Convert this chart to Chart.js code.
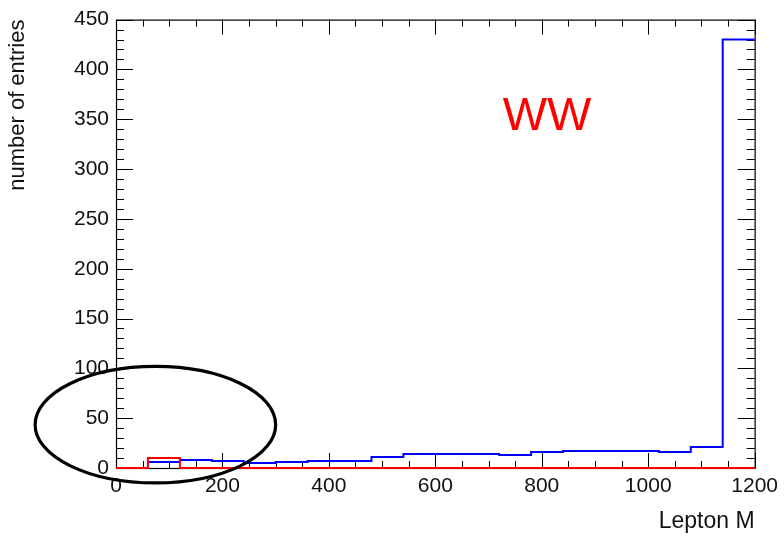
<!DOCTYPE html>
<html>
<head>
<meta charset="utf-8">
<script src="https://cdn.jsdelivr.net/npm/chart.js@4"></script>
<style>
  html, body { margin: 0; padding: 0; background: #fff; }
  #wrap { width: 784px; height: 536px; }
</style>
</head>
<body>
<div id="wrap"><canvas id="histChart"></canvas></div>
<script>
// bin edges (60 wide, 0..1200) and per-bin counts
const binEdges = [0, 60, 120, 180, 240, 300, 360, 420, 480, 540, 600, 660, 720, 780, 840, 900, 960, 1020, 1080, 1140, 1200];
const blueCounts = [0, 6, 8, 7, 5, 6, 7, 7, 11, 14, 14, 14, 13, 16, 17, 17, 17, 16, 21, 430];
const redCounts = [0, 10, 0, 0, 0, 0, 0, 0, 0, 0, 0, 0, 0, 0, 0, 0, 0, 0, 0, 0];
const xTickLabels = [0, 200, 400, 600, 800, 1000, 1200];
const yTickLabels = [0, 50, 100, 150, 200, 250, 300, 350, 400, 450];

// step points: each left edge holds its bin value, last edge closes the final bin
function toSteps(counts) {
    const pts = counts.map((c, i) => ({ x: binEdges[i], y: c }));
    pts.push({ x: binEdges[binEdges.length - 1], y: counts[counts.length - 1] });
    return pts;
}

const FONT = 'Liberation Sans, Arial, Helvetica, sans-serif';

// ROOT-style frame with inward ticks on all four sides, drawn under the histograms
const frameTicks = {
    id: 'frameTicks',
    beforeDatasetsDraw(chart) {
        const { ctx, chartArea: a, scales: { x, y } } = chart;
        ctx.save();
        ctx.strokeStyle = '#000';
        ctx.lineWidth = 1;
        ctx.beginPath();
        for (let v = 0; v <= 1200; v += 50) {
            const px = Math.round(x.getPixelForValue(v)) + 0.5;
            const len = v % 200 === 0 ? 15 : 7;
            ctx.moveTo(px, a.bottom); ctx.lineTo(px, a.bottom - len);
            ctx.moveTo(px, a.top); ctx.lineTo(px, a.top + len);
        }
        for (let v = 0; v <= 450; v += 10) {
            const py = Math.round(y.getPixelForValue(v)) + 0.5;
            const len = v % 50 === 0 ? 17 : 8;
            ctx.moveTo(a.left, py); ctx.lineTo(a.left + len, py);
            ctx.moveTo(a.right, py); ctx.lineTo(a.right - len, py);
        }
        ctx.stroke();
        ctx.lineWidth = 1.2;
        ctx.strokeRect(a.left + 0.5, a.top + 0.5, a.right - a.left, a.bottom - a.top);
        ctx.restore();
    }
};

// label and the circled low-mass region, placed in data coordinates
const annotations = {
    id: 'annotations',
    afterDraw(chart) {
        const { ctx, scales: { x, y } } = chart;
        ctx.save();
        ctx.fillStyle = '#ff0000';
        ctx.font = '47px ' + FONT;
        ctx.textAlign = 'center';
        ctx.textBaseline = 'alphabetic';
        ctx.fillText('WW', x.getPixelForValue(810), y.getPixelForValue(339));

        const cx = x.getPixelForValue(74), cy = y.getPixelForValue(43.5);
        const rx = x.getPixelForValue(226) - x.getPixelForValue(0);
        const ry = y.getPixelForValue(0) - y.getPixelForValue(58.5);
        ctx.strokeStyle = '#000';
        ctx.lineWidth = 3.2;
        ctx.beginPath();
        ctx.ellipse(cx, cy, rx, ry, 0, 0, Math.PI * 2);
        ctx.stroke();
        ctx.restore();
    }
};

new Chart(document.getElementById('histChart'), {
    type: 'line',
    data: {
        datasets: [{
            label: 'WW',
            data: toSteps(blueCounts),
            borderColor: '#0000ff',
            borderWidth: 2,
            stepped: true,
            pointRadius: 0,
            fill: false,
            clip: false,
            order: 2
        }, {
            label: 'signal',
            data: toSteps(redCounts),
            borderColor: '#ff0000',
            borderWidth: 2,
            stepped: true,
            pointRadius: 0,
            fill: false,
            clip: false,
            order: 1
        }]
    },
    options: {
        responsive: true,
        maintainAspectRatio: false,
        animation: false,
        layout: { padding: { left: 0, top: 17, right: 27, bottom: 0 } },
        plugins: { legend: { display: false }, tooltip: { enabled: false } },
        scales: {
            x: {
                type: 'linear',
                min: 0,
                max: 1200,
                afterFit(s) { s.height = 68; },
                afterBuildTicks(s) { s.ticks = xTickLabels.map(v => ({ value: v })); },
                grid: { display: false, drawTicks: false },
                border: { display: false },
                ticks: {
                    color: '#111', font: { family: FONT, size: 21 }, padding: 6, maxRotation: 0,
                    callback: v => String(v)
                },
                title: {
                    display: true, text: 'Lepton M', align: 'end', color: '#111',
                    font: { family: FONT, size: 23 }, padding: { top: 0, bottom: 1 }
                }
            },
            y: {
                min: 0,
                max: 450,
                afterFit(s) { s.width = 116; },
                afterBuildTicks(s) { s.ticks = yTickLabels.map(v => ({ value: v })); },
                grid: { display: false, drawTicks: false },
                border: { display: false },
                ticks: { color: '#111', font: { family: FONT, size: 21 }, padding: 7 },
                title: {
                    display: true, text: 'number of entries', align: 'end', color: '#111',
                    font: { family: FONT, size: 22 }, padding: { top: 5, bottom: 0 }
                }
            }
        }
    },
    plugins: [frameTicks, annotations]
});
</script>
</body>
</html>
